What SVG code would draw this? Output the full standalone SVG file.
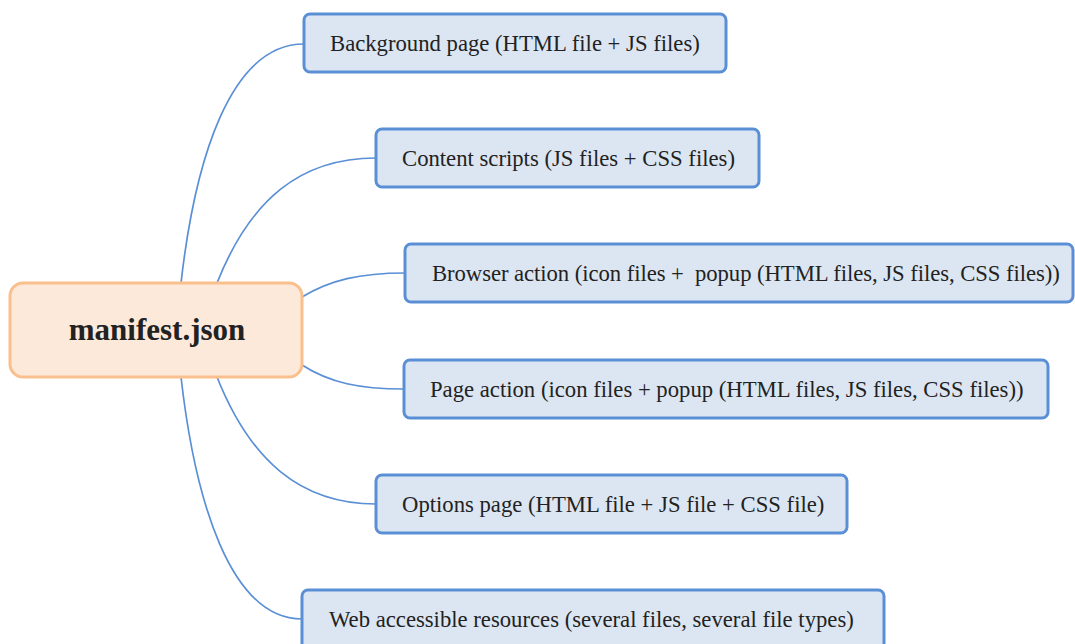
<svg xmlns="http://www.w3.org/2000/svg" width="1075" height="644" viewBox="0 0 1075 644">
<style>
.n rect{fill:#dce6f2;stroke:#5a8fd6;stroke-width:3}
.n text{font-family:"Liberation Serif",serif;font-size:22.7px;fill:#222;dominant-baseline:central}
.c path{fill:none;stroke:#5a8fd6;stroke-width:1.7}
</style>
<rect width="1075" height="644" fill="#fff"/>
<g class="c" id="connectors">
<path d="M181 283 C195 160 230 44 304 44"/>
<path d="M217 283 C250 200 300 158 376 158"/>
<path d="M302 297 C330 280 360 273 405 273"/>
<path d="M302 365 C330 383 360 389 404 389"/>
<path d="M217 377 C250 460 300 504 376 504"/>
<path d="M181 377 C195 500 230 619 302 619"/>
</g>
<g id="root">
<rect x="10" y="283" width="292" height="94" rx="13" fill="#fde9da" stroke="#f9bf8c" stroke-width="3"/>
<text x="157" y="329" font-family="Liberation Serif,serif" font-weight="bold" font-size="31" fill="#222" text-anchor="middle" dominant-baseline="central">manifest.json</text>
</g>
<g class="n" id="n1"><rect x="304" y="14" width="422" height="58" rx="6"/><text x="330" y="43">Background page (HTML file + JS files)</text></g>
<g class="n" id="n2"><rect x="376" y="129" width="383" height="58" rx="6"/><text x="402" y="158">Content scripts (JS files + CSS files)</text></g>
<g class="n" id="n3"><rect x="405" y="244" width="668" height="58" rx="6"/><text x="432" y="273" style="white-space:pre;letter-spacing:-0.06px" xml:space="preserve">Browser action (icon files +  popup (HTML files, JS files, CSS files))</text></g>
<g class="n" id="n4"><rect x="404" y="360" width="644" height="58" rx="6"/><text x="430" y="389">Page action (icon files + popup (HTML files, JS files, CSS files))</text></g>
<g class="n" id="n5"><rect x="376" y="475" width="471" height="58" rx="6"/><text x="402" y="504">Options page (HTML file + JS file + CSS file)</text></g>
<g class="n" id="n6"><rect x="302" y="590" width="582" height="70" rx="6"/><text x="329" y="619">Web accessible resources (several files, several file types)</text></g>
</svg>
